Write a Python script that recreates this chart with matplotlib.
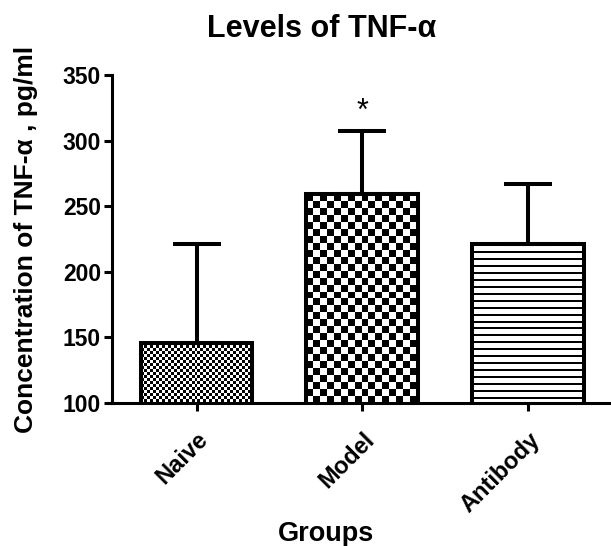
import numpy as np
import matplotlib
matplotlib.use("Agg")
import matplotlib.pyplot as plt

# ---- data ----
groups = ["Naive", "Model", "Antibody"]
means = [146, 259, 221]
err_upper = [75.5, 48, 46]
star_group = "Model"
star_value = 329
yticks = [100, 150, 200, 250, 300, 350]

plt.rcParams['font.family'] = ['Liberation Sans', 'DejaVu Sans']

fig = plt.figure(figsize=(6.11, 5.46), dpi=100)
ax = fig.add_axes([0.1833, 0.2619, 0.8167, 0.6007])

x = np.arange(len(groups))
ax.set_xlim(-0.51, 2.5)
ax.set_ylim(100, 350)

bars = ax.bar(x, means, width=0.675, facecolor='none', edgecolor='black',
              linewidth=2.9, zorder=3)
ax.errorbar(x, means, yerr=[np.zeros(len(means)), err_upper], fmt='none',
            ecolor='black', elinewidth=2.9, capsize=17.5, capthick=2.9, zorder=2.5)

# textures (fill patterns) clipped to each bar
def checker(h, w, c):
    i = np.arange(h)[:, None]
    j = np.arange(w)[None, :]
    return (((i // c) + (j // c)) % 2).astype(float)

def stripes(h, w, period, thick):
    i = np.arange(h)[:, None]
    arr = np.where((i % period) < thick, 0.0, 1.0)
    return np.repeat(arr, w, axis=1)

fills = [lambda h, w: checker(h, w, 3),
         lambda h, w: checker(h, w, 7),
         lambda h, w: stripes(h, w, 7, 2)]

ylo = ax.get_ylim()[0]
for b, f in zip(bars, fills):
    x0 = b.get_x(); x1 = x0 + b.get_width()
    y0 = max(b.get_y(), ylo); y1 = b.get_y() + b.get_height()
    p0 = ax.transData.transform((x0, y0)); p1 = ax.transData.transform((x1, y1))
    w = int(round(abs(p1[0] - p0[0]))) + 1
    h = int(round(abs(p1[1] - p0[1]))) + 1
    img = ax.imshow(f(h, w), cmap='gray', vmin=0, vmax=1, extent=(x0, x1, y0, y1),
                    interpolation='nearest', aspect='auto', zorder=2)
    img.set_clip_path(b)

ax.set_xlim(-0.51, 2.5)
ax.set_ylim(100, 350)

# star (visible glyph centred on star_value)
ax.annotate("*", xy=(groups.index(star_group), star_value), xytext=(0, -12.5),
            textcoords='offset points', ha='center', va='baseline', fontsize=22)

for s in ['top', 'right']:
    ax.spines[s].set_visible(False)
for s in ['left', 'bottom']:
    ax.spines[s].set_linewidth(2.2)

ax.set_yticks(yticks)
ax.set_yticklabels([str(v) for v in yticks], fontsize=16.5, fontweight='bold')
ax.set_xticks(x)
ax.set_xticklabels(groups, rotation=45, ha='right', rotation_mode='anchor',
                   fontsize=17, fontweight='bold')
ax.tick_params(axis='both', width=2.2, length=6)
ax.tick_params(axis='y', pad=2)
ax.tick_params(axis='x', pad=12)

ax.set_title("Levels of TNF-α", fontsize=22, fontweight='bold', x=0.421, y=1.116,
             va='baseline', pad=0)
ax.set_xlabel("Groups", fontsize=19.5, fontweight='bold', va='baseline')
ax.xaxis.set_label_coords(0.429, -0.421)
ax.set_ylabel("Concentration of TNF-α , pg/ml", fontsize=19, fontweight='bold')
ax.yaxis.set_label_coords(-0.148, 0.5)

fig.savefig("out.png", dpi=100)
